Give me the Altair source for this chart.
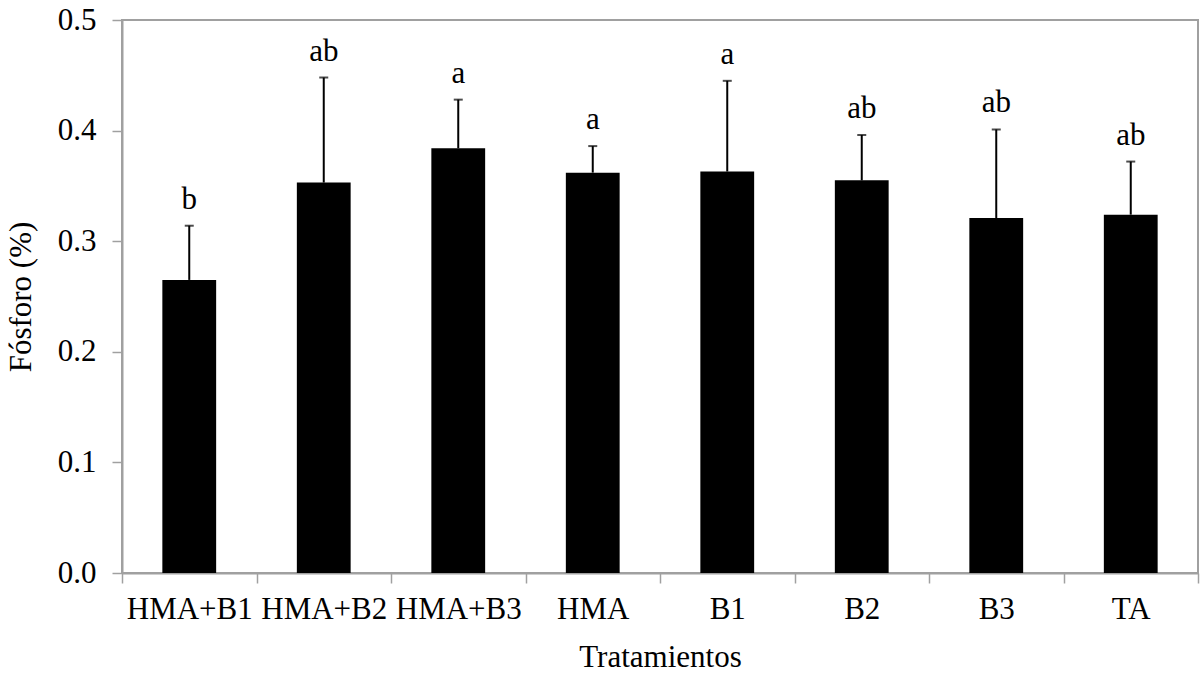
import altair as alt
import pandas as pd

tratamientos = ["HMA+B1", "HMA+B2", "HMA+B3", "HMA", "B1", "B2", "B3", "TA"]
fosforo = [0.265, 0.353, 0.384, 0.362, 0.363, 0.355, 0.321, 0.324]
error_sup = [0.314, 0.448, 0.428, 0.386, 0.445, 0.396, 0.401, 0.372]
letras = ["b", "ab", "a", "a", "a", "ab", "ab", "ab"]

df = pd.DataFrame({
    "trat": tratamientos,
    "p": fosforo,
    "e": error_sup,
    "l": letras,
})

FONT = "Liberation Serif"
GRAY = "#a0a0a0"

xscale = alt.Scale(paddingInner=0, paddingOuter=0)

x = alt.X(
    "trat:N",
    sort=tratamientos,
    scale=xscale,
    axis=alt.Axis(
        title="Tratamientos",
        labelAngle=0,
        labelFont=FONT,
        labelFontSize=31,
        labelColor="black",
        labelPadding=11,
        titleFont=FONT,
        titleFontSize=31,
        titleFontWeight="normal",
        titleColor="black",
        titlePadding=18,
        tickBand="extent",
        tickSize=10,
        tickColor=GRAY,
        tickWidth=1.5,
        domainColor=GRAY,
        domainWidth=2,
    ),
)

y_axis = alt.Axis(
    title="Fósforo (%)",
    values=[0, 0.1, 0.2, 0.3, 0.4, 0.5],
    format=".1f",
    grid=False,
    labelFont=FONT,
    labelFontSize=31,
    labelColor="black",
    labelPadding=16,
    titleFont=FONT,
    titleFontSize=31,
    titleFontWeight="normal",
    titleColor="black",
    titlePadding=20,
    tickSize=10,
    tickColor=GRAY,
    tickWidth=1.5,
    domainColor=GRAY,
    domainWidth=2,
)
yscale = alt.Scale(domain=[0, 0.5], nice=False)

base = alt.Chart(df)
xs = alt.X("trat:N", sort=tratamientos, scale=xscale)

bars = base.mark_bar(color="black", width=alt.RelativeBandSize(0.4)).encode(
    x=x,
    y=alt.Y("p:Q", scale=yscale, axis=y_axis),
)

err = base.mark_rule(color="black", strokeWidth=2).encode(
    x=xs,
    y="p:Q",
    y2="e:Q",
)

cap = base.mark_tick(color="black", size=9, thickness=2).encode(
    x=xs,
    y="e:Q",
)

txt = base.mark_text(
    font=FONT, fontSize=31, color="black", baseline="bottom", dy=-10
).encode(
    x=xs,
    y="e:Q",
    text="l:N",
)

chart = (
    alt.layer(bars, err, cap, txt)
    .properties(
        width=1076,
        height=553,
        padding={"left": 122, "top": 20, "right": 3, "bottom": 103},
        autosize="none",
        background="white",
    )
    .configure_view(stroke=GRAY, strokeWidth=2)
)

chart.save("out.html", embed_options={"renderer": "svg", "actions": False})
